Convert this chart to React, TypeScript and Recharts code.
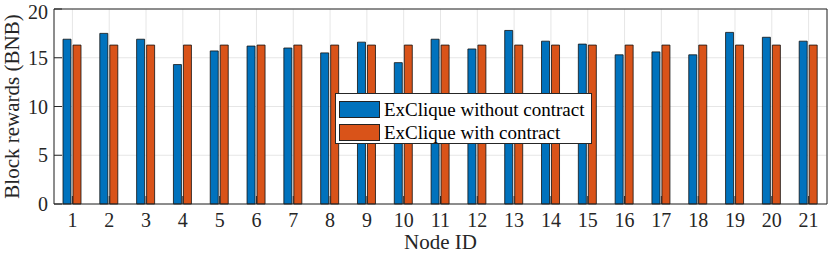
import React from 'react';
import { BarChart, Bar, XAxis, YAxis, CartesianGrid, Legend } from 'recharts';

const nodeIds = ['1', '2', '3', '4', '5', '6', '7', '8', '9', '10', '11', '12', '13', '14', '15', '16', '17', '18', '19', '20', '21'];
const withoutContract = [16.9, 17.5, 16.9, 14.3, 15.7, 16.2, 16.0, 15.5, 16.6, 14.5, 16.9, 15.9, 17.8, 16.7, 16.4, 15.3, 15.6, 15.3, 17.6, 17.1, 16.7];
const withContract = [16.3, 16.3, 16.3, 16.3, 16.3, 16.3, 16.3, 16.3, 16.3, 16.3, 16.3, 16.3, 16.3, 16.3, 16.3, 16.3, 16.3, 16.3, 16.3, 16.3, 16.3];
const yTicks = [0, 5, 10, 15, 20];
const seriesNames = ['ExClique without contract', 'ExClique with contract'];
const colors = ['#0072BD', '#D95319'];

const data = nodeIds.map((id, i) => ({ node: id, without: withoutContract[i], with: withContract[i] }));

const FONT = "'Liberation Serif', Tinos, 'DejaVu Serif', serif";
const AXIS = '#262626';

const LegendBox = (props: any) => {
  const payload = [...(props.payload || [])].sort(
    (a: any, b: any) => seriesNames.indexOf(a.value) - seriesNames.indexOf(b.value)
  );
  return (
    <div
      style={{
        boxSizing: 'border-box',
        width: 257,
        height: 51,
        border: `1px solid ${AXIS}`,
        background: '#fff',
        paddingTop: 4,
        paddingLeft: 3,
        fontFamily: FONT,
        fontSize: 19,
        color: '#000',
      }}
    >
      {payload.map((p: any, i: number) => (
        <div key={i} style={{ display: 'flex', alignItems: 'center', height: 23 }}>
          <div
            style={{
              boxSizing: 'border-box',
              width: 41,
              height: 17,
              background: p.color,
              border: '1px solid #222',
              marginRight: 4,
              flex: 'none',
            }}
          />
          <span style={{ lineHeight: '23px', whiteSpace: 'nowrap', fontFamily: FONT }}>{p.value}</span>
        </div>
      ))}
    </div>
  );
};

export default function App() {
  return (
    <div style={{ position: 'absolute', left: 0, top: 0, width: 830, height: 253, background: '#fff', fontFamily: FONT }}>
      <BarChart
        width={830}
        height={253}
        data={data}
        margin={{ top: 8, right: 2, bottom: 0, left: 0 }}
        barSize={8}
        barGap={2}
        style={{ fontFamily: FONT }}
      >
        <CartesianGrid stroke="#e6e6e6" strokeWidth={1} />
        <XAxis
          dataKey="node"
          interval={0}
          height={49}
          tickSize={-8}
          tickMargin={16.5}
          axisLine={{ stroke: AXIS }}
          tickLine={{ stroke: AXIS }}
          tick={{ fontSize: 20, fill: AXIS, fontFamily: FONT }}
          label={{ value: 'Node ID', position: 'insideBottom', offset: 4.5, fontSize: 21, fill: AXIS, fontFamily: FONT }}
        />
        <XAxis
          xAxisId="top"
          dataKey="node"
          orientation="top"
          interval={0}
          height={1}
          tickSize={-8}
          tick={false}
          axisLine={{ stroke: AXIS }}
          tickLine={{ stroke: AXIS }}
        />
        <YAxis
          type="number"
          domain={[0, 20]}
          ticks={yTicks}
          width={54}
          tickSize={-8}
          tickMargin={14}
          axisLine={{ stroke: AXIS }}
          tickLine={{ stroke: AXIS }}
          tick={{ fontSize: 20, fill: AXIS, fontFamily: FONT }}
          label={{
            value: 'Block rewards (BNB)',
            angle: -90,
            position: 'insideLeft',
            offset: 11.5,
            fontSize: 21,
            fill: AXIS,
            fontFamily: FONT,
            style: { textAnchor: 'middle', fontFamily: FONT },
          }}
        />
        <YAxis
          yAxisId="right"
          orientation="right"
          type="number"
          domain={[0, 20]}
          ticks={yTicks}
          width={1}
          tickSize={-8}
          tick={false}
          axisLine={{ stroke: AXIS }}
          tickLine={{ stroke: AXIS }}
        />
        <Legend
          layout="vertical"
          align="center"
          verticalAlign="middle"
          wrapperStyle={{ left: 335, top: 93, width: 257, height: 51 }}
          content={<LegendBox />}
        />
        <Bar dataKey="without" name={seriesNames[0]} fill={colors[0]} stroke="#111" strokeWidth={0.8} isAnimationActive={false} />
        <Bar dataKey="with" name={seriesNames[1]} fill={colors[1]} stroke="#111" strokeWidth={0.8} isAnimationActive={false} />
      </BarChart>
    </div>
  );
}
